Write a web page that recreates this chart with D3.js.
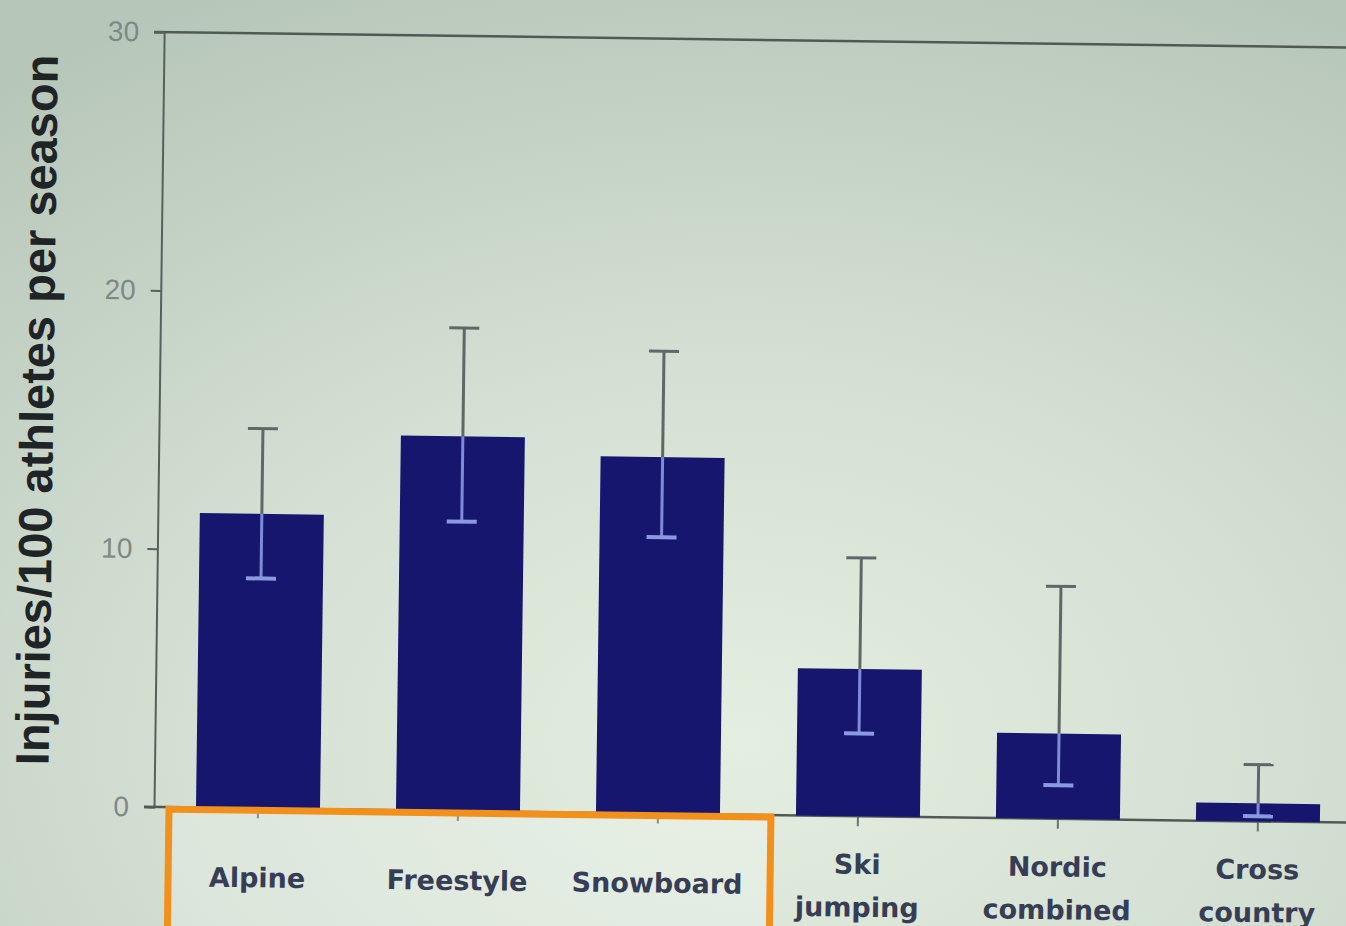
<!DOCTYPE html>
<html>
<head>
<meta charset="utf-8">
<script src="https://cdn.jsdelivr.net/npm/d3@7"></script>
<style>
  html, body { margin: 0; padding: 0; overflow: hidden; background: #cddacc; }
  svg { display: block; }
</style>
</head>
<body>
<svg id="chart" width="1346" height="926"></svg>
<script>
// Injury incidence by discipline (injuries per 100 athletes per season, with 95% CI)
const categories = ["Alpine", "Freestyle", "Snowboard", "Ski jumping", "Nordic combined", "Cross country"];
const values     = [11.4, 14.5, 13.8, 5.7, 3.3, 0.7];
const ciLower    = [8.9, 11.2, 10.7, 3.2, 1.3, 0.2];
const ciUpper    = [14.7, 18.7, 17.9, 10.0, 9.0, 2.2];
const yTicks     = [0, 10, 20, 30];
const highlighted = ["Alpine", "Freestyle", "Snowboard"];
const yTitle = "Injuries/100 athletes per season";

const W = 1346, H = 926;
const axisX = 154, baseY = 807, topY = 32;

const svg = d3.select("#chart");
const defs = svg.append("defs");

// soft projector-style backdrop
const bg = defs.append("radialGradient").attr("id", "bg")
  .attr("cx", "55%").attr("cy", "80%").attr("r", "90%");
bg.append("stop").attr("offset", "0%").attr("stop-color", "#e4eee1");
bg.append("stop").attr("offset", "45%").attr("stop-color", "#d4e0d3");
bg.append("stop").attr("offset", "100%").attr("stop-color", "#b6c6b9");
svg.append("rect").attr("width", W).attr("height", H).attr("fill", "url(#bg)");

const g = svg.append("g").attr("transform", `rotate(0.75, ${axisX}, ${baseY})`);

const x = d3.scaleBand()
  .domain(categories)
  .range([158, 1358])
  .paddingInner(0.38)
  .paddingOuter(0.19);

const y = d3.scaleLinear().domain([0, 30]).range([baseY, topY]);

// plot frame: top edge
g.append("line")
  .attr("x1", axisX - 10).attr("x2", 1420)
  .attr("y1", y(30)).attr("y2", y(30))
  .attr("stroke", "#4f5a56").attr("stroke-width", 2.5);

// y axis
const yAxis = d3.axisLeft(y).tickValues(yTicks).tickSize(10).tickPadding(15).tickFormat(d3.format("d"));
const yg = g.append("g").attr("transform", `translate(${axisX},0)`).call(yAxis);
yg.select(".domain").attr("stroke", "#56605d").attr("stroke-width", 2);
yg.selectAll(".tick line").attr("stroke", "#56605d").attr("stroke-width", 2);
yg.selectAll(".tick text")
  .attr("font-family", "'Liberation Sans', Arial, sans-serif")
  .attr("font-size", 28)
  .attr("fill", "#7d8985");

// x axis ticks at band centres
const xAxis = d3.axisBottom(x).tickSize(10).tickFormat("");
const xg = g.append("g").attr("transform", `translate(0,${baseY})`).call(xAxis);
xg.select(".domain").remove();
xg.selectAll(".tick line").attr("stroke", "#6a7470").attr("stroke-width", 2);

// highlight box around the first group of disciplines
g.append("rect")
  .attr("x", 169)
  .attr("y", baseY + 2)
  .attr("width", 771 - 169)
  .attr("height", 200)
  .attr("fill", "rgba(255,255,255,0.22)")
  .attr("stroke", "none");

// baseline
g.append("line")
  .attr("x1", axisX - 10).attr("x2", 1420)
  .attr("y1", baseY).attr("y2", baseY)
  .attr("stroke", "#4f5a56").attr("stroke-width", 2.5);

// bars
const data = categories.map((c, i) => ({ c, v: values[i], lo: ciLower[i], hi: ciUpper[i] }));
g.selectAll("rect.bar").data(data).join("rect")
  .attr("class", "bar")
  .attr("x", d => x(d.c))
  .attr("width", x.bandwidth())
  .attr("y", d => y(d.v))
  .attr("height", d => y(0) - y(d.v))
  .attr("fill", "#16166e");

// error bars: segment above the bar is grey, segment over the bar appears light blue
const cx = d => x(d.c) + x.bandwidth() / 2;
const capW = 30;
const eb = g.selectAll("g.err").data(data).join("g").attr("class", "err");
eb.append("line")
  .attr("x1", cx).attr("x2", cx)
  .attr("y1", d => y(d.hi)).attr("y2", d => y(d.v))
  .attr("stroke", "#5f6868").attr("stroke-width", 3);
eb.append("line")
  .attr("x1", d => cx(d) - capW / 2).attr("x2", d => cx(d) + capW / 2)
  .attr("y1", d => y(d.hi)).attr("y2", d => y(d.hi))
  .attr("stroke", "#5f6868").attr("stroke-width", 3);
eb.append("line")
  .attr("x1", cx).attr("x2", cx)
  .attr("y1", d => y(d.v)).attr("y2", d => y(d.lo))
  .attr("stroke", "#7d8cd6").attr("stroke-width", 3);
eb.append("line")
  .attr("x1", d => cx(d) - capW / 2).attr("x2", d => cx(d) + capW / 2)
  .attr("y1", d => y(d.lo)).attr("y2", d => y(d.lo))
  .attr("stroke", "#8a9ae0").attr("stroke-width", 4);

// highlight box outline
g.append("rect")
  .attr("x", 169)
  .attr("y", baseY + 2)
  .attr("width", 771 - 169)
  .attr("height", 200)
  .attr("fill", "none")
  .attr("stroke", "#f2901c")
  .attr("stroke-width", 7);

// category labels (multi-word names wrap onto two lines)
const lineH = 43, labelMid = 886;
const labels = g.selectAll("text.cat").data(data).join("text")
  .attr("class", "cat")
  .attr("text-anchor", "middle")
  .attr("font-family", "'DejaVu Sans', Verdana, sans-serif")
  .attr("font-weight", "bold")
  .attr("font-size", 27)
  .attr("fill", "#363d55");
labels.each(function(d) {
  const words = d.c.split(" ");
  const t = d3.select(this);
  const first = labelMid - (words.length - 1) * lineH / 2;
  words.forEach((w, k) => {
    t.append("tspan").attr("x", cx(d)).attr("y", first + k * lineH).text(w);
  });
});

// y axis title
g.append("text")
  .attr("transform", `translate(48, ${(baseY + topY) / 2 - 8}) rotate(-90)`)
  .attr("text-anchor", "middle")
  .attr("font-family", "'Liberation Sans', Arial, sans-serif")
  .attr("font-weight", "bold")
  .attr("font-size", 47)
  .attr("fill", "#1f2426")
  .text(yTitle);
</script>
</body>
</html>
